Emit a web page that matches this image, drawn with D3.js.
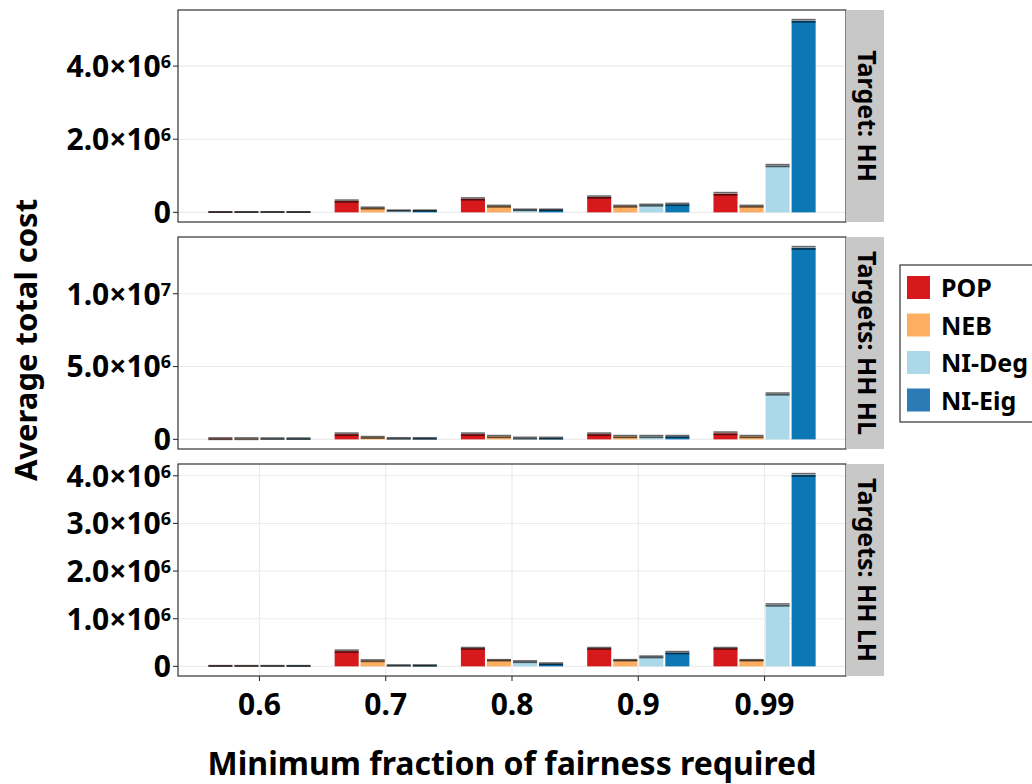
<!DOCTYPE html>
<html>
<head>
<meta charset="utf-8">
<script src="https://cdn.jsdelivr.net/npm/d3@7"></script>
<style>
  body { margin: 0; background: #fff; }
  text { font-family: "Noto Sans", "Open Sans", sans-serif; font-weight: bold; fill: #000; }
</style>
</head>
<body>
<svg id="chart" width="1032" height="784"></svg>
<script>
// fairness levels on the x axis, methods as dodged bars
var fractions = ["0.6", "0.7", "0.8", "0.9", "0.99"];
var methods = ["POP", "NEB", "NI-Deg", "NI-Eig"];
var colours = ["#d7191c", "#fdae61", "#abd9e9", "#0b77b5"];
var legendColours = ["#d7191c", "#fdae61", "#abd9e9", "#2c7bb6"];
var stripLabels = ["Target: HH", "Targets: HH HL", "Targets: HH LH"];

// mean cost, one row per method (POP, NEB, NI-Deg, NI-Eig), one column per fraction
var costHH = [
  [0.01e6, 0.31e6, 0.37e6, 0.42e6, 0.51e6],
  [0.01e6, 0.12e6, 0.17e6, 0.17e6, 0.17e6],
  [0.01e6, 0.05e6, 0.07e6, 0.20e6, 1.28e6],
  [0.01e6, 0.05e6, 0.07e6, 0.22e6, 5.24e6]
];
var errHH = [
  [0.005e6, 0.025e6, 0.025e6, 0.025e6, 0.03e6],
  [0.005e6, 0.02e6, 0.02e6, 0.02e6, 0.02e6],
  [0.005e6, 0.01e6, 0.015e6, 0.02e6, 0.025e6],
  [0.005e6, 0.01e6, 0.015e6, 0.025e6, 0.03e6]
];
var costHHHL = [
  [0.05e6, 0.36e6, 0.36e6, 0.36e6, 0.42e6],
  [0.05e6, 0.14e6, 0.20e6, 0.20e6, 0.20e6],
  [0.05e6, 0.07e6, 0.09e6, 0.20e6, 3.12e6],
  [0.05e6, 0.07e6, 0.09e6, 0.20e6, 13.15e6]
];
var errHHHL = [
  [0.05e6, 0.07e6, 0.07e6, 0.07e6, 0.08e6],
  [0.05e6, 0.05e6, 0.06e6, 0.06e6, 0.06e6],
  [0.04e6, 0.04e6, 0.05e6, 0.06e6, 0.06e6],
  [0.04e6, 0.04e6, 0.05e6, 0.06e6, 0.08e6]
];
var costHHLH = [
  [0.01e6, 0.32e6, 0.38e6, 0.38e6, 0.38e6],
  [0.01e6, 0.12e6, 0.13e6, 0.13e6, 0.13e6],
  [0.01e6, 0.02e6, 0.10e6, 0.20e6, 1.29e6],
  [0.01e6, 0.02e6, 0.055e6, 0.29e6, 4.02e6]
];
var errHHLH = [
  [0.005e6, 0.02e6, 0.015e6, 0.015e6, 0.015e6],
  [0.005e6, 0.015e6, 0.01e6, 0.01e6, 0.01e6],
  [0.005e6, 0.01e6, 0.015e6, 0.015e6, 0.02e6],
  [0.005e6, 0.01e6, 0.015e6, 0.02e6, 0.025e6]
];
var yTicksHH = [0, 2e6, 4e6];
var yTicksHHHL = [0, 5e6, 1e7];
var yTicksHHLH = [0, 1e6, 2e6, 3e6, 4e6];

var panels = [
  { cost: costHH, err: errHH, ticks: yTicksHH, strip: stripLabels[0], xgrid: false },
  { cost: costHHHL, err: errHHHL, ticks: yTicksHHHL, strip: stripLabels[1], xgrid: false },
  { cost: costHHLH, err: errHHLH, ticks: yTicksHHLH, strip: stripLabels[2], xgrid: true }
];

var left = 178, right = 846, stripW = 38,
    panelTop = [10, 237, 464], panelH = 212;

var svg = d3.select("#chart");

var x = d3.scalePoint().domain(fractions).range([left, right]).padding(0.645);
var slot = x.step() * 0.825 / methods.length,
    barW = slot - 2;

function tickLabel(sel, v) {
  if (v === 0) { sel.text("0"); return; }
  var e = Math.floor(Math.log10(v)),
      m = v / Math.pow(10, e);
  sel.append("tspan").text(m.toFixed(1) + "×10");
  sel.append("tspan").text(e).style("font-size", "18px").attr("dy", "-9");
}

panels.forEach(function(p, pi) {
  var top = panelTop[pi], bottom = top + panelH;
  var maxV = d3.max(p.cost, function(row, mi) {
    return d3.max(row, function(v, fi) { return v + p.err[mi][fi]; });
  });
  var y = d3.scaleLinear().domain([-0.05 * maxV, 1.05 * maxV]).range([bottom, top]);

  var g = svg.append("g");

  // grid
  g.selectAll(".hgrid").data(p.ticks).enter().append("line")
    .attr("x1", left).attr("x2", right)
    .attr("y1", function(d) { return y(d); }).attr("y2", function(d) { return y(d); })
    .attr("stroke", "#ebebeb").attr("stroke-width", 1.1);
  if (p.xgrid) {
    g.selectAll(".vgrid").data(fractions).enter().append("line")
      .attr("x1", function(d) { return x(d); }).attr("x2", function(d) { return x(d); })
      .attr("y1", top).attr("y2", bottom)
      .attr("stroke", "#ebebeb").attr("stroke-width", 1.1);
  }

  // bars
  var flat = [];
  p.cost.forEach(function(row, mi) {
    row.forEach(function(v, fi) {
      flat.push({ m: mi, f: fractions[fi], v: v, e: p.err[mi][fi] });
    });
  });
  function bx(d) { return x(d.f) + (d.m - 1.5) * slot - barW / 2; }

  g.selectAll(".bar").data(flat).enter().append("rect")
    .attr("x", bx)
    .attr("y", function(d) { return y(d.v); })
    .attr("width", barW)
    .attr("height", function(d) { return y(0) - y(d.v); })
    .attr("fill", function(d) { return colours[d.m]; });

  // error bars
  var eb = g.selectAll(".err").data(flat).enter().append("g")
    .attr("stroke", "#000").attr("stroke-opacity", 0.6).attr("stroke-width", 1.6);
  eb.append("line")
    .attr("x1", bx).attr("x2", function(d) { return bx(d) + barW; })
    .attr("y1", function(d) { return y(d.v + d.e); }).attr("y2", function(d) { return y(d.v + d.e); });
  eb.append("line")
    .attr("x1", bx).attr("x2", function(d) { return bx(d) + barW; })
    .attr("y1", function(d) { return y(d.v - d.e); }).attr("y2", function(d) { return y(d.v - d.e); });

  // panel border
  g.append("rect")
    .attr("x", left).attr("y", top).attr("width", right - left).attr("height", panelH)
    .attr("fill", "none").attr("stroke", "#333").attr("stroke-width", 1.2);

  // y axis ticks + labels
  var yt = g.selectAll(".ytick").data(p.ticks).enter().append("g")
    .attr("transform", function(d) { return "translate(0," + y(d) + ")"; });
  yt.append("line").attr("x1", left - 5).attr("x2", left).attr("stroke", "#333").attr("stroke-width", 1.1);
  yt.append("text")
    .attr("x", left - 7).attr("dy", "0.36em")
    .attr("text-anchor", "end")
    .style("font-size", "30px")
    .each(function(d) { tickLabel(d3.select(this), d); });

  // strip on the right
  g.append("rect")
    .attr("x", right).attr("y", top).attr("width", stripW).attr("height", panelH)
    .attr("fill", "#c8c8c8");
  g.append("text")
    .attr("transform", "translate(" + (right + 12) + "," + (top + panelH / 2) + ") rotate(90)")
    .attr("text-anchor", "middle")
    .style("font-size", "25px")
    .text(p.strip);

  // x axis on the bottom panel
  if (pi === panels.length - 1) {
    var xt = g.selectAll(".xtick").data(fractions).enter().append("g")
      .attr("transform", function(d) { return "translate(" + x(d) + "," + bottom + ")"; });
    xt.append("line").attr("y1", 0).attr("y2", 5).attr("stroke", "#333").attr("stroke-width", 1.1);
    xt.append("text")
      .attr("y", 39).attr("text-anchor", "middle")
      .style("font-size", "30px")
      .text(function(d) { return d; });
  }
});

// axis titles
svg.append("text")
  .attr("x", (left + right) / 2).attr("y", 775)
  .attr("text-anchor", "middle")
  .style("font-size", "32px")
  .text("Minimum fraction of fairness required");
svg.append("text")
  .attr("transform", "translate(37,340) rotate(-90)")
  .attr("text-anchor", "middle")
  .style("font-size", "31px")
  .text("Average total cost");

// legend
var legend = svg.append("g").attr("transform", "translate(900,265)");
legend.append("rect")
  .attr("width", 140).attr("height", 157)
  .attr("fill", "#fff").attr("stroke", "#333").attr("stroke-width", 1.2);
var li = legend.selectAll(".item").data(methods).enter().append("g")
  .attr("transform", function(d, i) { return "translate(7," + (11 + i * 37.5) + ")"; });
li.append("rect").attr("width", 23).attr("height", 23)
  .attr("fill", function(d, i) { return legendColours[i]; });
li.append("text").attr("x", 34).attr("y", 21)
  .style("font-size", "25px")
  .text(function(d) { return d; });
</script>
</body>
</html>
